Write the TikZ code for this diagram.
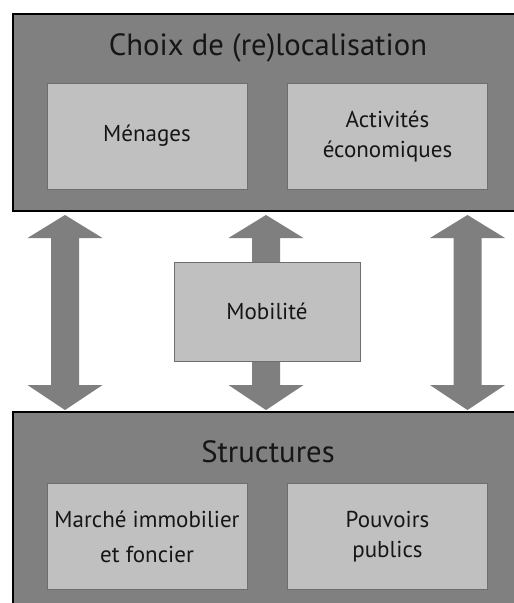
\documentclass[tikz,border=0pt]{standalone}
\usepackage{fontspec}
\setmainfont{PT Sans}
\usetikzlibrary{calc}
\definecolor{darkbox}{HTML}{808080}
\definecolor{lightbox}{HTML}{C0C0C0}
\definecolor{lightedge}{HTML}{6E6E6E}
\definecolor{arrowgray}{HTML}{7F7F7F}
\definecolor{txt}{HTML}{161616}
\newcommand\dbarrow[2]{%
  \fill[arrowgray] (#1) -- ++(37.5,23) -- ++(-23.5,0) -- ($(#2)+(14,-25)$) -- ++(23.5,0) -- (#2)
    -- ++(-37.5,-25) -- ++(23.5,0) -- ($(#1)+(-14,23)$) -- ++(-23.5,0) -- cycle;}
\tikzset{
  outerbox/.style={draw=black, line width=2pt, fill=darkbox, anchor=north west, inner sep=0pt},
  innerbox/.style={draw=lightedge, line width=1pt, fill=lightbox, minimum width=200pt, minimum height=106pt,
    align=center, font=\fontsize{23}{29.5}\selectfont, text=txt, inner sep=0pt},
  titletext/.style={font=\fontsize{30.7}{36}\selectfont, text=txt, inner sep=0pt}
}
\begin{document}
\begin{tikzpicture}[x=1pt,y=-1pt]
\useasboundingbox (0,0) rectangle (514,603);
\clip (0,0) rectangle (514,603);
\fill[white] (0,0) rectangle (514,603);
% outer boxes
\node[outerbox, minimum width=520pt, minimum height=197pt] (top) at (12,13) {};
\node[outerbox, minimum width=520pt, minimum height=220pt] (bot) at (12,411) {};
\node[titletext] (toptitle) at (268,48) {Choix de (re)localisation};
\node[titletext] (bottitle) at (268,452) {Structures};
% inner boxes
\node[innerbox] (menages) at (147,136) {Ménages};
\node[innerbox] (activites) at (387.5,136.5) {Activités\\économiques};
\node[innerbox, font=\fontsize{23}{35}\selectfont] (marche) at (147,536.5) {Marché immobilier\\et foncier};
\node[innerbox] (pouvoirs) at (387.5,536.5) {Pouvoirs\\publics};
% arrow anchors
\coordinate (x1) at (65,0);
\coordinate (x2) at (266,0);
\coordinate (x3) at (467.5,0);
\foreach \i in {1,2,3}{
  \coordinate (t\i) at ($(top.south -| x\i)+(0,3)$);
  \coordinate (b\i) at ($(bot.north -| x\i)+(0,-1)$);
}
\dbarrow{t1}{b1}
\dbarrow{t2}{b2}
\dbarrow{t3}{b3}
% mobility box
\node[innerbox, minimum width=186pt, minimum height=99pt] (mobilite) at (267,311.5) {Mobilité};
\end{tikzpicture}
\end{document}
